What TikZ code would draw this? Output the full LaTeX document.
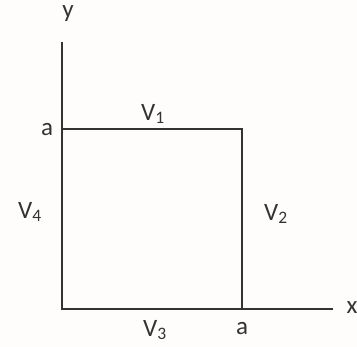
\documentclass[tikz,border=0pt]{standalone}
\usepackage{fontspec}
\setmainfont{Carlito}
\begin{document}
\begin{tikzpicture}[x=1pt,y=-1pt,
  ln/.style={draw=black!80,line width=1.8pt},
  lbl/.style={font=\fontsize{25}{30}\selectfont,text=black!80,inner sep=0pt}]
\fill[pink!5!white] (0,0) rectangle (357,347);
\useasboundingbox (0,0) rectangle (357,347);
\coordinate (O) at (62,309);
\coordinate (Ytop) at (62,42);
\coordinate (Xend) at (333,309);
\coordinate (A) at (62,129);
\coordinate (B) at (242,129);
\coordinate (C) at (242,309);
\draw[ln] (Ytop) -- (O) -- (Xend);
\draw[ln] (A) -- (B) -- (C);
\node[lbl] (ly) at (68,14) {y};
\node[lbl] (lx) at (352,308) {x};
\node[lbl] (la1) at (47,130) {a};
\node[lbl] (la2) at (242,329) {a};
\node[lbl] (v1) at (153,114) {V\textsubscript{1}};
\node[lbl] (v2) at (276,214) {V\textsubscript{2}};
\node[lbl] (v3) at (155,330) {V\textsubscript{3}};
\node[lbl] (v4) at (30,212) {V\textsubscript{4}};
\end{tikzpicture}
\end{document}
